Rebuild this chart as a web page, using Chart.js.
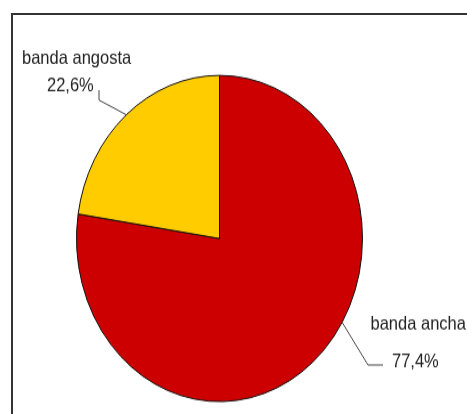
<!DOCTYPE html>
<html>
<head>
<meta charset="utf-8">
<title>banda ancha / banda angosta</title>
<script src="https://cdn.jsdelivr.net/npm/chart.js@4.4.1/dist/chart.umd.min.js"></script>
<style>
    html, body { margin: 0; padding: 0; background: #fff; }
    #page { position: relative; width: 467px; height: 414px; overflow: hidden; }
    #frame {
        position: absolute; left: 11px; top: 13px; right: -4px; bottom: -4px;
        border-left: 2px solid #333; border-top: 2px solid #333;
    }
    /* chart is drawn round and then stretched vertically */
    #wrap {
        position: absolute; left: 0; top: 0; width: 467px; height: 363px;
        transform: scale(1, 1.1405); transform-origin: 0 0;
    }
</style>
</head>
<body>
<div id="page">
    <div id="frame"></div>
    <div id="wrap"><canvas id="Chart" width="467" height="363"></canvas></div>
</div>
<script>
let categorias = ['banda ancha', 'banda angosta'];
let porcentajes = [77.4, 22.6];
let etiquetas = ['77,4%', '22,6%'];
let colores = ['#CC0000', '#FFCC00'];

// labels with leader lines, placed next to each slice
const etiquetasPlugin = {
    id: 'etiquetas',
    afterDraw(chart) {
        const ctx = chart.ctx;
        const arcs = chart.getDatasetMeta(0).data;
        ctx.save();
        ctx.font = '16.5px "Liberation Sans", Arial, sans-serif';
        ctx.fillStyle = '#222';
        ctx.strokeStyle = '#444';
        ctx.lineWidth = 1;
        ctx.textBaseline = 'alphabetic';
        ctx.textAlign = 'left';

        // banda ancha (right side)
        let a = arcs[0];
        let ang = a.startAngle + (a.endAngle - a.startAngle) * 0.434;
        ctx.beginPath();
        ctx.moveTo(a.x + Math.cos(ang) * a.outerRadius, a.y + Math.sin(ang) * a.outerRadius);
        ctx.lineTo(368, 320);
        ctx.lineTo(383, 320);
        ctx.stroke();
        ctx.fillText(categorias[0], 370.5, 289.3);
        ctx.fillText(etiquetas[0], 392, 321.8);

        // banda angosta (upper left)
        a = arcs[1];
        ang = (a.startAngle + a.endAngle) / 2;
        ctx.beginPath();
        ctx.moveTo(a.x + Math.cos(ang) * a.outerRadius, a.y + Math.sin(ang) * a.outerRadius);
        ctx.lineTo(99, 87.7);
        ctx.lineTo(99, 79);
        ctx.stroke();
        ctx.fillText(categorias[1], 22, 56.1);
        ctx.fillText(etiquetas[1], 47, 79.8);
        ctx.restore();
    }
};

function main()
{
    var ctx = document.getElementById('Chart');
    new Chart(ctx, {
        type: 'pie',
        data: {
            labels: categorias,
            datasets: [{
                data: porcentajes,
                backgroundColor: colores,
                borderColor: '#111',
                borderWidth: 1
            }]
        },
        options: {
            responsive: false,
            animation: false,
            layout: {
                padding: { left: 76, right: 104, top: 65.6, bottom: 10.4 }
            },
            plugins: {
                legend: { display: false },
                tooltip: { enabled: false }
            }
        },
        plugins: [etiquetasPlugin]
    });
}

main();
</script>
</body>
</html>
